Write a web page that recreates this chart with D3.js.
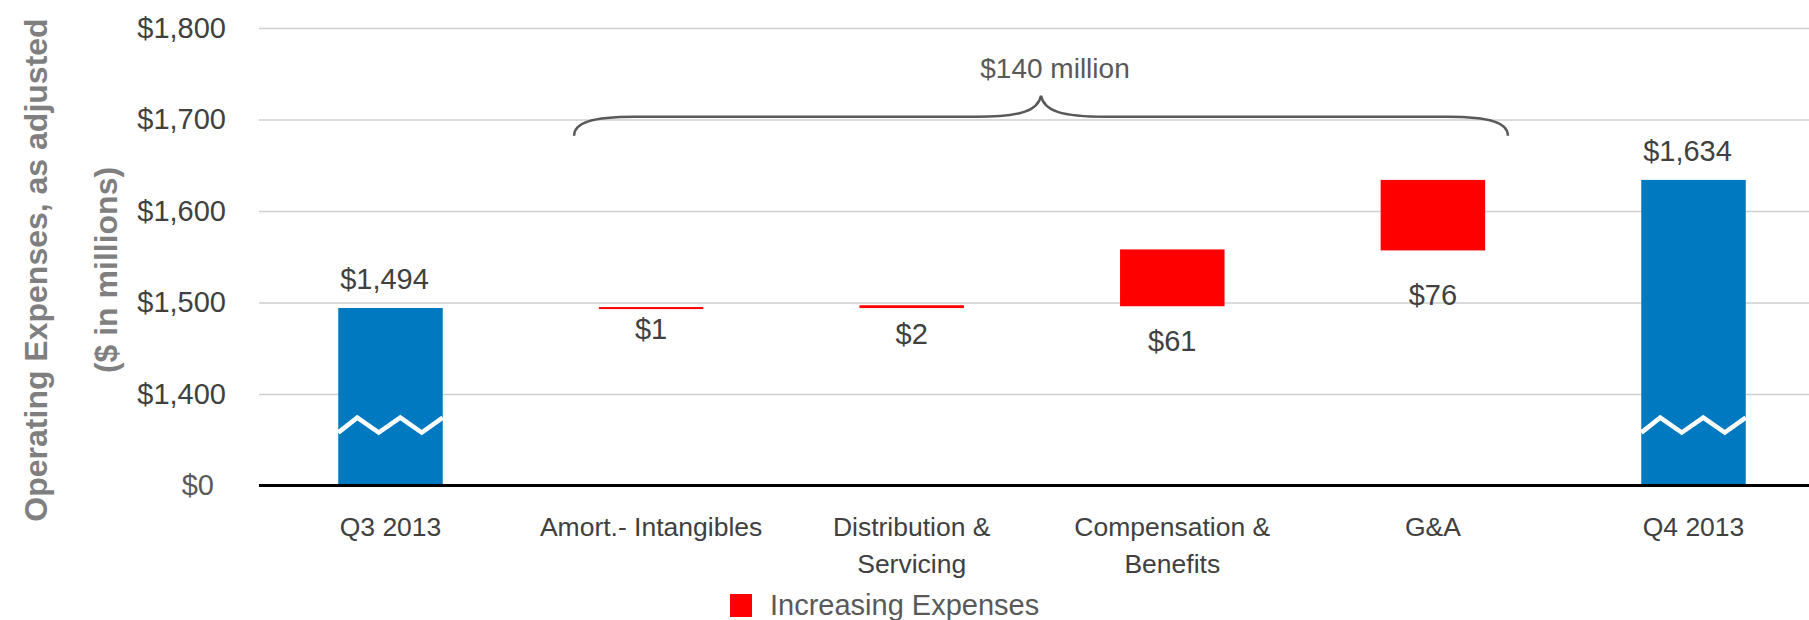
<!DOCTYPE html>
<html>
<head>
<meta charset="utf-8">
<script src="https://cdn.jsdelivr.net/npm/d3@7"></script>
<style>
  body { margin: 0; background: #fff; overflow: hidden; }
  svg { display: block; font-family: "Liberation Sans", Arial, sans-serif; }
  .grid line { stroke: #cfcfcf; stroke-width: 1.5; }
  .grid .domain { display: none; }
  .xaxis .domain, .xaxis line { display: none; }
</style>
</head>
<body>
<div id="chart"></div>
<script>

///////////////////////////////////////////////////
//
//        Operating Expenses Waterfall
//
///////////////////////////////////////////////////

// chart data
var categories = ["Q3 2013", "Amort.- Intangibles", "Distribution & Servicing", "Compensation & Benefits", "G&A", "Q4 2013"];
var categoryLines = [["Q3 2013"], ["Amort.- Intangibles"], ["Distribution &", "Servicing"], ["Compensation &", "Benefits"], ["G&A"], ["Q4 2013"]];
var totals = [1494, null, null, null, null, 1634];
var changes = [null, 1, 2, 61, 76, null];
var tickValues = [1300, 1400, 1500, 1600, 1700, 1800];
var tickLabels = ["$0", "$1,400", "$1,500", "$1,600", "$1,700", "$1,800"];
var braceLabel = "$140 million";
var legendLabel = "Increasing Expenses";

// layout
var width = 1809, height = 620;
var axisBase = 1300,       // bottom of the broken axis, shown as $0
    breakValue = 1366,     // where the zigzag break sits on the totals
    braceValue = 1703;
var labelDrop = [0, 31, 37, 46, 56, 0];   // gap under the red bars to their labels

var blue = "#0079c1", red = "#ff0000", textColor = "#404040";

// build waterfall rows
var running = 0;
var rows = categories.map(function(c, i) {
  var row = {cat: c, lines: categoryLines[i]};
  if (totals[i] != null) {
    row.type = "total";
    row.start = axisBase;
    row.end = totals[i];
    row.value = totals[i];
    running = totals[i];
  } else {
    row.type = "change";
    row.start = running;
    row.end = running + changes[i];
    row.value = changes[i];
    running = row.end;
  }
  return row;
});

var svg = d3.select("#chart")
  .append("svg")
  .attr("width", width)
  .attr("height", height);

// scales
var x = d3.scaleBand()
  .domain(categories)
  .range([338.25, 1745.75])
  .paddingInner(0.599)
  .paddingOuter(0);

var y = d3.scaleLinear()
  .domain([1300, 1800])
  .range([485.5, 28]);

var fmt = d3.format("$,");

// gridlines + y tick labels
var plotLeft = 259;
var yAxis = d3.axisLeft(y)
  .tickValues(tickValues)
  .tickFormat(function(d, i) { return tickLabels[i]; })
  .tickSizeInner(-(width - plotLeft))
  .tickSizeOuter(0)
  .tickPadding(33);

var grid = svg.append("g")
  .attr("class", "grid")
  .attr("transform", "translate(" + plotLeft + ",0)")
  .call(yAxis);

grid.selectAll("text")
  .style("font-size", "29px")
  .style("font-family", "Liberation Sans, Arial, sans-serif")
  .style("fill", textColor);

// $0 sits a little further in and lighter
grid.selectAll(".tick")
  .filter(function(d) { return d == axisBase; })
  .select("text")
  .attr("x", -45)
  .style("fill", "#595959");

grid.selectAll(".tick")
  .filter(function(d) { return d == axisBase; })
  .select("line")
  .remove();

// bars
var bars = svg.selectAll(".bar")
  .data(rows)
  .enter()
  .append("g")
  .attr("class", "bar");

bars.append("rect")
  .attr("x", function(d) { return x(d.cat); })
  .attr("width", x.bandwidth())
  .attr("y", function(d) { return y(d.end); })
  .attr("height", function(d) {
    var h = y(d.start) - y(d.end);
    return d.type == "change" ? Math.max(h + 1, 2) : h;
  })
  .style("fill", function(d) { return d.type == "total" ? blue : red; });

// zigzag break marks on the totals
var zig = d3.line();
bars.filter(function(d) { return d.type == "total"; })
  .append("path")
  .attr("d", function(d) {
    var x0 = x(d.cat), w = x.bandwidth(), yc = y(breakValue), pts = [];
    var period = 43, amp = 7.5, phase = 19;
    pts.push([x0, yc + amp]);
    for (var px = phase; px < w; px += period / 2) {
      var k = Math.round((px - phase) / (period / 2));
      pts.push([x0 + px, k % 2 == 0 ? yc - amp : yc + amp]);
    }
    pts.push([x0 + w, yc - amp]);
    return zig(pts);
  })
  .style("fill", "none")
  .style("stroke", "#fff")
  .style("stroke-width", 4.5);

// baseline
svg.append("line")
  .attr("x1", plotLeft)
  .attr("x2", width)
  .attr("y1", y(axisBase))
  .attr("y2", y(axisBase))
  .style("stroke", "#000")
  .style("stroke-width", 3);

// value labels
bars.append("text")
  .attr("x", function(d) {
    return x(d.cat) + x.bandwidth() / 2 + (d.type == "total" ? -6 : 0);
  })
  .attr("y", function(d, i) {
    return d.type == "total" ? y(d.end) - 19 : y(d.start) + labelDrop[i];
  })
  .attr("text-anchor", "middle")
  .style("font-size", "29px")
  .style("fill", textColor)
  .text(function(d) { return fmt(d.value); });

// x axis labels
var xAxis = d3.axisBottom(x).tickSize(0);
var xg = svg.append("g")
  .attr("class", "xaxis")
  .attr("transform", "translate(0," + y(axisBase) + ")")
  .call(xAxis);

xg.selectAll("text")
  .attr("dy", null)
  .attr("y", null)
  .text(null)
  .style("font-size", "26.5px")
  .style("font-family", "Liberation Sans, Arial, sans-serif")
  .style("fill", textColor)
  .each(function(d) {
    var lines = categoryLines[categories.indexOf(d)];
    var t = d3.select(this);
    lines.forEach(function(l, j) {
      t.append("tspan")
        .attr("x", 0)
        .attr("y", 50 + j * 37)
        .text(l);
    });
  });

// brace over the change bars
var bl = x(categories[1]) + x.bandwidth() / 2 - 77,
    br = x(categories[4]) + x.bandwidth() / 2 + 75,
    bm = (bl + br) / 2,
    by = y(braceValue);

var bracePath = d3.path();
bracePath.moveTo(bl, by + 19);
bracePath.bezierCurveTo(bl, by + 6, bl + 18, by, bl + 60, by);
bracePath.lineTo(bm - 65, by);
bracePath.bezierCurveTo(bm - 20, by, bm - 3, by - 6, bm, by - 21);
bracePath.bezierCurveTo(bm + 3, by - 6, bm + 20, by, bm + 65, by);
bracePath.lineTo(br - 60, by);
bracePath.bezierCurveTo(br - 18, by, br, by + 6, br, by + 19);

svg.append("path")
  .attr("d", bracePath.toString())
  .style("fill", "none")
  .style("stroke", "#595959")
  .style("stroke-width", 2.5);

svg.append("text")
  .attr("x", bm + 14)
  .attr("y", 78)
  .attr("text-anchor", "middle")
  .style("font-size", "28px")
  .style("fill", "#595959")
  .text(braceLabel);

// y axis title
var titleLines = ["Operating Expenses, as adjusted", "($ in millions)"];
svg.selectAll(".ytitle")
  .data(titleLines)
  .enter()
  .append("text")
  .attr("class", "ytitle")
  .attr("transform", function(d, i) {
    return "translate(" + (47 + i * 70) + ",270) rotate(-90)";
  })
  .attr("text-anchor", "middle")
  .style("font-size", "32px")
  .style("font-weight", "bold")
  .style("fill", "#7f7f7f")
  .text(function(d) { return d; });

// legend
var legend = svg.append("g")
  .attr("transform", "translate(730,594)");

legend.append("rect")
  .attr("width", 22)
  .attr("height", 23)
  .style("fill", red);

legend.append("text")
  .attr("x", 40)
  .attr("y", 21)
  .style("font-size", "29px")
  .style("fill", "#595959")
  .text(legendLabel);

</script>
</body>
</html>
